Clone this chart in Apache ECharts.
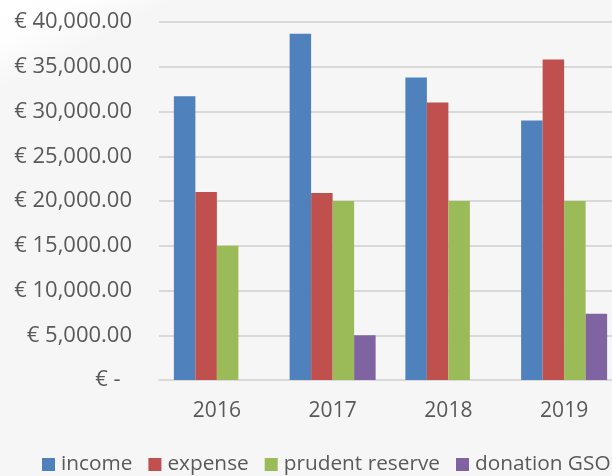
<!DOCTYPE html>
<html>
<head>
<meta charset="utf-8">
<style>
  html, body { margin: 0; padding: 0; background: #f6f6f6; overflow: hidden; }
  #chart { width: 640px; height: 476px; }
</style>
<script src="https://cdn.jsdelivr.net/npm/echarts@6/dist/echarts.min.js"></script>
</head>
<body>
<div id="chart"></div>
<script>
const years = ["2016", "2017", "2018", "2019"];
const income = [31700, 38700, 33800, 29000];
const expense = [21000, 20900, 31000, 35800];
const prudentReserve = [15000, 20000, 20000, 20000];
const donationGso = [null, 5000, null, 7400];

const textColor = "#595959";
const fontFamily = "Open Sans";

const makeBar = (name, data, color) => ({
  name,
  type: "bar",
  data,
  barWidth: 21.5,
  barGap: 0,
  itemStyle: { color },
});

const myChart = echarts.init(document.getElementById("chart"), null, { renderer: "canvas" });

let option = {
  backgroundColor: "#f6f6f6",
  animation: false,
  textStyle: { fontFamily },
  // the white fade at the top of the map picture behind the chart
  graphic: [
    {
      type: "rect",
      silent: true,
      z: -1,
      shape: { x: 0, y: 0, width: 470, height: 110 },
      style: {
        fill: {
          type: "linear",
          x: 0,
          y: 0,
          x2: 0.12,
          y2: 1,
          colorStops: [
            { offset: 0, color: "rgba(255,255,255,1)" },
            { offset: 0.3, color: "rgba(255,255,255,0.9)" },
            { offset: 0.65, color: "rgba(255,255,255,0)" },
            { offset: 1, color: "rgba(255,255,255,0)" },
          ],
        },
      },
    },
  ],
  legend: {
    left: 42,
    top: 454,
    padding: 0,
    itemWidth: 13,
    itemHeight: 13,
    itemGap: 16,
    icon: "rect",
    textStyle: { color: textColor, fontSize: 20.8, fontFamily, padding: [0, 0, 0, 1] },
    data: ["income", "expense", "prudent reserve", "donation GSO"],
  },
  grid: { left: 159, top: 22, width: 463, height: 358 },
  xAxis: {
    type: "category",
    data: years,
    axisTick: { show: false },
    axisLine: { lineStyle: { color: "#d9d9d9", width: 2 } },
    axisLabel: { color: textColor, fontSize: 21, margin: 21, fontFamily },
  },
  yAxis: {
    type: "value",
    min: 0,
    max: 40000,
    interval: 5000,
    axisLine: { show: false },
    axisTick: { show: false },
    splitLine: { lineStyle: { color: "#d9d9d9", width: 2 } },
    axisLabel: {
      color: textColor,
      fontSize: 22,
      margin: 27,
      fontFamily,
      formatter: value => {
        if (value === 0) return "€ -  ";
        return "€ " + value.toLocaleString("en-US") + ".00";
      },
    },
  },
  series: [
    makeBar("income", income, "#4f81bd"),
    makeBar("expense", expense, "#c0504d"),
    makeBar("prudent reserve", prudentReserve, "#9bbb59"),
    makeBar("donation GSO", donationGso, "#8064a2"),
  ],
};
myChart.setOption(option);
</script>
</body>
</html>
